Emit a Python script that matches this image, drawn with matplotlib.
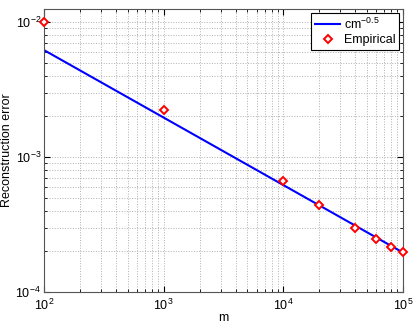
import matplotlib
matplotlib.use("Agg")
import matplotlib.pyplot as plt
import numpy as np

plt.rcParams['font.family'] = ['Liberation Sans', 'DejaVu Sans']
plt.rcParams['mathtext.fontset'] = 'custom'
plt.rcParams['mathtext.rm'] = 'Liberation Sans'

# fitted line c*m^-0.5
m_line = np.array([1e2, 1e5])
c = 0.062

# empirical points
m_emp = [100, 1000, 10000, 20000, 40000, 60000, 80000, 100000]
err_emp = [1.0e-2, 2.25e-3, 6.6e-4, 4.43e-4, 2.99e-4, 2.45e-4, 2.16e-4, 1.98e-4]

fig = plt.figure(figsize=(4.15, 3.27), dpi=100)
ax = fig.add_axes([0.106, 0.107, 0.865, 0.8655])

ax.loglog(m_line, c * m_line ** -0.5, color='blue', linewidth=1.5, label='cm$^{-0.5}$')
ax.loglog(m_emp, err_emp, 'D', color='red', markerfacecolor='white',
          markeredgewidth=1.4, markersize=4.5, linestyle='none', label='Empirical',
          clip_on=False, zorder=5)

ax.set_xlim(1e2, 1e5)
ax.set_ylim(1e-4, 1.25e-2)
ax.set_yticks([1e-4, 1e-3, 1e-2])
ax.set_xticks([1e2, 1e3, 1e4, 1e5])

ax.grid(True, which='both', linestyle=':', color='#b0b0b0', linewidth=0.7)
ax.tick_params(which='both', direction='in', top=True, right=True, labelsize=9)
ax.tick_params(which='major', length=4)
ax.tick_params(which='minor', length=2)
ax.tick_params(axis='y', which='major', pad=2)
ax.tick_params(axis='x', which='major', pad=4)
for s in ax.spines.values():
    s.set_color('#555555')

ax.set_xlabel('m', fontsize=9)
ax.xaxis.set_label_coords(0.5, -0.072)
ax.set_ylabel('Reconstruction error', fontsize=9)
ax.yaxis.set_label_coords(-0.085, 0.5)

leg = ax.legend(loc='upper right', fontsize=9, fancybox=False, edgecolor='black',
                framealpha=1, borderaxespad=0.3, handlelength=2.0,
                handletextpad=0.3, borderpad=0.3, labelspacing=0.2)
leg.get_frame().set_linewidth(0.8)

fig.savefig('out.png', dpi=100)
